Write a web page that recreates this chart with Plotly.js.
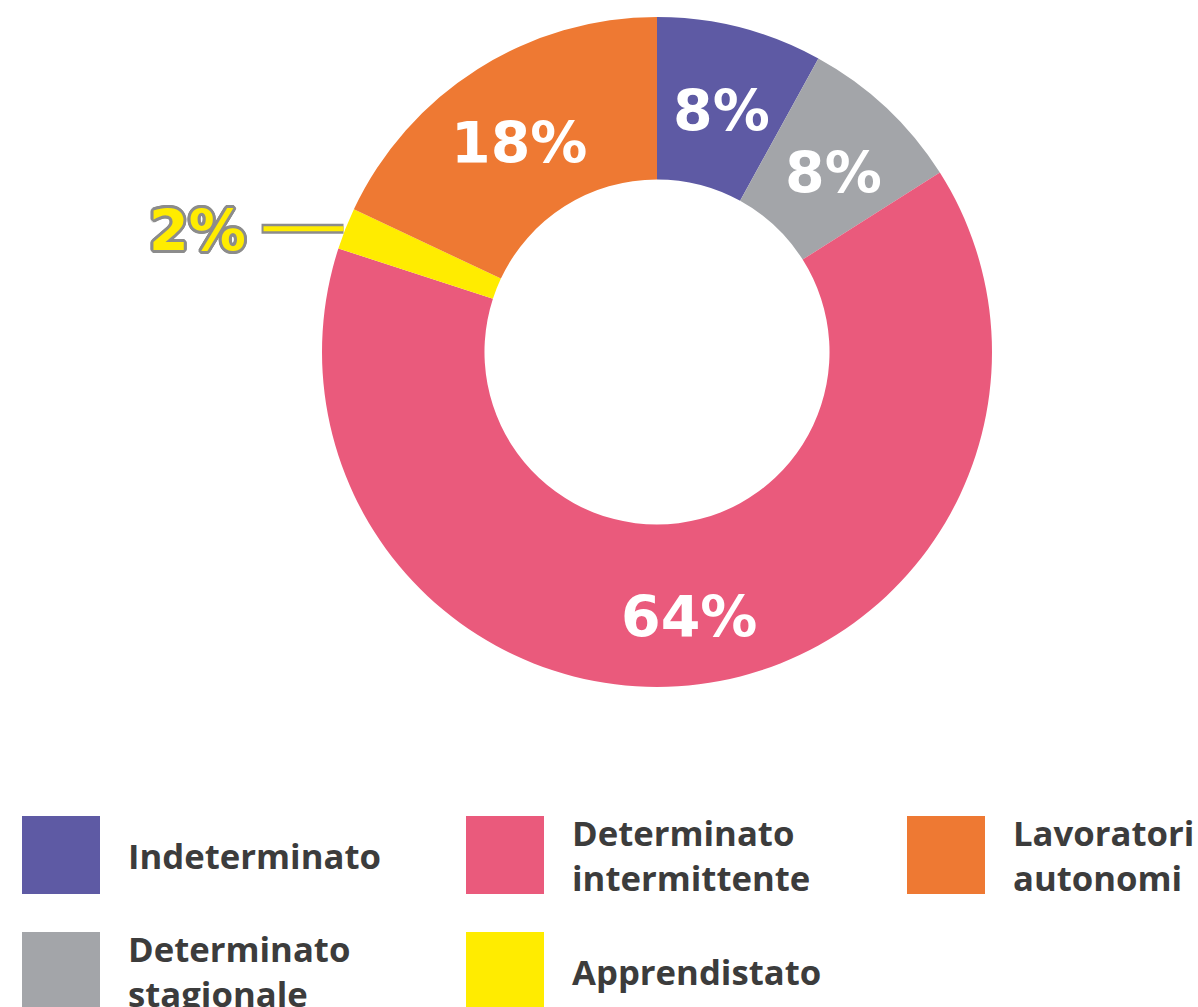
<!DOCTYPE html>
<html>
<head>
<meta charset="utf-8">
<script src="https://cdn.plot.ly/plotly-3.0.1.min.js"></script>
<style>html,body{margin:0;padding:0;background:#fff;}#chart{width:1198px;height:1007px;}</style>
</head>
<body>
<div id="chart"></div>
<script>
// ---- data ----
const categories = ["Indeterminato", "Determinato stagionale", "Determinato intermittente", "Apprendistato", "Lavoratori autonomi"];
const legendLabels = ["Indeterminato", "Determinato<br>stagionale", "Determinato<br>intermittente", "Apprendistato", "Lavoratori<br>autonomi"];
const values = [8, 8, 64, 2, 18];
const colors = ["#5e5aa4", "#a3a5a9", "#ea5a7c", "#ffec00", "#ee7933"];
const outsideIndex = 3; // slice labelled outside with a leader line

// ---- geometry ----
const W = 1198, H = 1007;
const cx = 657, cy = 352, R = 335, HOLE = 0.515;
const px = x => x / W, py = y => 1 - y / H;

const trace = {
  type: 'pie',
  labels: categories,
  values: values,
  sort: false,
  direction: 'clockwise',
  rotation: 0,
  hole: HOLE,
  marker: {colors: colors, line: {width: 0}},
  textinfo: 'none',
  showlegend: false,
  domain: {x: [px(cx - R), px(cx + R)], y: [py(cy + R), py(cy - R)]}
};

const total = values.reduce((a, b) => a + b, 0);
const shapes = [];
const annotations = [];
const pctFont = {family: 'DejaVu Sans', size: 57, weight: 700};

// percentage labels at each slice's mid angle
let cum = 0;
values.forEach((v, i) => {
  const theta = 2 * Math.PI * (cum + v / 2) / total;
  cum += v;
  const pct = Math.round(100 * v / total) + '%';
  if (i === outsideIndex) {
    const Px = cx + R * Math.sin(theta), Py = cy - R * Math.cos(theta);
    shapes.push({type: 'line', xref: 'paper', yref: 'paper', x0: px(Px - 84), x1: px(Px - 2), y0: py(Py), y1: py(Py), line: {color: '#8c8c8c', width: 10}});
    shapes.push({type: 'line', xref: 'paper', yref: 'paper', x0: px(Px - 82), x1: px(Px - 2), y0: py(Py), y1: py(Py), line: {color: colors[i], width: 5}});
    const sh = [];
    for (let a = 0; a < 16; a++) {
      const ang = a * Math.PI / 8;
      sh.push((3 * Math.cos(ang)).toFixed(1) + 'px ' + (3 * Math.sin(ang)).toFixed(1) + 'px 0 #8c8c8c');
    }
    annotations.push({xref: 'paper', yref: 'paper', x: px(Px - 148), y: py(Py + 2), xanchor: 'center', yanchor: 'middle', showarrow: false,
      text: pct, font: Object.assign({}, pctFont, {color: colors[i], shadow: sh.join(', ')})});
  } else {
    const rm = R * (1 + HOLE) / 2 + 4;
    const x = cx + rm * Math.sin(theta), y = cy - rm * Math.cos(theta) + 9;
    annotations.push({xref: 'paper', yref: 'paper', x: px(x), y: py(y), xanchor: 'center', yanchor: 'middle', showarrow: false,
      text: pct, font: Object.assign({}, pctFont, {color: '#ffffff'})});
  }
});

// custom legend
const colX = [22, 466, 907];
const rowY = [816, 932];
const sq = 78;
values.forEach((v, i) => {
  const c = Math.floor(i / 2), r = i % 2;
  const x0 = colX[c], y0 = rowY[r];
  shapes.push({type: 'rect', xref: 'paper', yref: 'paper', x0: px(x0), x1: px(x0 + sq), y0: py(y0 + sq), y1: py(y0), fillcolor: colors[i], line: {width: 0}});
  annotations.push({xref: 'paper', yref: 'paper', x: px(x0 + 104), y: py(y0 + sq / 2), xanchor: 'left', yanchor: 'middle', align: 'left', showarrow: false,
    text: legendLabels[i], font: {family: 'Open Sans', size: 34.7, color: '#3c3c3c', weight: 700}});
});

const layout = {
  width: W, height: H,
  margin: {l: 0, r: 0, t: 0, b: 0},
  paper_bgcolor: '#ffffff',
  shapes: shapes,
  annotations: annotations
};

Plotly.newPlot('chart', [trace], layout, {displayModeBar: false, staticPlot: true});
</script>
</body>
</html>
